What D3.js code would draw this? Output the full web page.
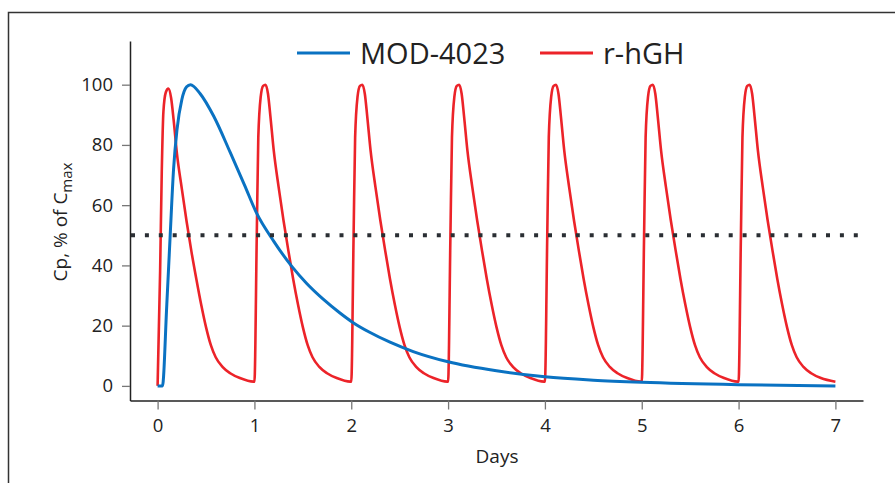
<!DOCTYPE html>
<html>
<head>
<meta charset="utf-8">
<script src="https://cdn.jsdelivr.net/npm/d3@7"></script>
<style>
	body { margin: 0; background: #fff; }
	text { font-family: "Open Sans", sans-serif; fill: #222; }
</style>
</head>
<body>
<div id="container"></div>
<script>
// MOD-4023, [day, % of Cmax]
var modData = [
	[0, 0], [0.05, 0], [0.095, 27], [0.13, 50], [0.165, 72], [0.2, 85], [0.25, 95],
	[0.3, 99.3], [0.34, 100], [0.44, 97], [0.58, 89.5], [0.75, 77.5], [0.9, 66.5],
	[1.02, 57.5], [1.2, 48], [1.39, 39.5], [1.54, 34], [1.71, 28.8], [1.88, 24.3],
	[2.02, 21], [2.19, 17.8], [2.4, 14.5], [2.64, 11.4], [3.0, 8], [3.5, 5],
	[4.0, 3], [4.5, 1.9], [5.0, 1.2], [6.0, 0.4], [7.0, 0]
]

// r-hGH, daily doses, [day, % of Cmax]
var rhghData = [
	[0, 0], [0.026, 38], [0.043, 71], [0.06, 91], [0.085, 97.5], [0.112, 98.7], [0.14, 95.5],
	[0.165, 88.5], [0.2, 77], [0.25, 65.5], [0.3, 54.5], [0.35, 44.5], [0.4, 35.5],
	[0.45, 27], [0.5, 19.5], [0.55, 13.5], [0.6, 9.5], [0.67, 6.3], [0.75, 4.2], [0.85, 2.6], [0.99, 1.4],
	[1.0, 1.4], [1.024, 49.5], [1.04, 82.5], [1.065, 96], [1.09, 99.6], [1.115, 100], [1.14, 97],
	[1.165, 89.5], [1.2, 78], [1.25, 66], [1.3, 55], [1.35, 45], [1.4, 35.5], [1.45, 27],
	[1.5, 19.5], [1.55, 13.5], [1.6, 9.5], [1.67, 6.3], [1.75, 4.2], [1.85, 2.6], [1.99, 1.4],
	[2.0, 1.4], [2.024, 49.5], [2.04, 82.5], [2.065, 96], [2.09, 99.6], [2.115, 100], [2.14, 97],
	[2.165, 89.5], [2.2, 78], [2.25, 66], [2.3, 55], [2.35, 45], [2.4, 35.5], [2.45, 27],
	[2.5, 19.5], [2.55, 13.5], [2.6, 9.5], [2.67, 6.3], [2.75, 4.2], [2.85, 2.6], [2.99, 1.4],
	[3.0, 1.4], [3.024, 49.5], [3.04, 82.5], [3.065, 96], [3.09, 99.6], [3.115, 100], [3.14, 97],
	[3.165, 89.5], [3.2, 78], [3.25, 66], [3.3, 55], [3.35, 45], [3.4, 35.5], [3.45, 27],
	[3.5, 19.5], [3.55, 13.5], [3.6, 9.5], [3.67, 6.3], [3.75, 4.2], [3.85, 2.6], [3.99, 1.4],
	[4.0, 1.4], [4.024, 49.5], [4.04, 82.5], [4.065, 96], [4.09, 99.6], [4.115, 100], [4.14, 97],
	[4.165, 89.5], [4.2, 78], [4.25, 66], [4.3, 55], [4.35, 45], [4.4, 35.5], [4.45, 27],
	[4.5, 19.5], [4.55, 13.5], [4.6, 9.5], [4.67, 6.3], [4.75, 4.2], [4.85, 2.6], [4.99, 1.4],
	[5.0, 1.4], [5.024, 49.5], [5.04, 82.5], [5.065, 96], [5.09, 99.6], [5.115, 100], [5.14, 97],
	[5.165, 89.5], [5.2, 78], [5.25, 66], [5.3, 55], [5.35, 45], [5.4, 35.5], [5.45, 27],
	[5.5, 19.5], [5.55, 13.5], [5.6, 9.5], [5.67, 6.3], [5.75, 4.2], [5.85, 2.6], [5.99, 1.4],
	[6.0, 1.4], [6.024, 49.5], [6.04, 82.5], [6.065, 96], [6.09, 99.6], [6.115, 100], [6.14, 97],
	[6.165, 89.5], [6.2, 78], [6.25, 66], [6.3, 55], [6.35, 45], [6.4, 35.5], [6.45, 27],
	[6.5, 19.5], [6.55, 13.5], [6.6, 9.5], [6.67, 6.3], [6.75, 4.2], [6.85, 2.6], [7.0, 1.4]
]

var xTicks = [0, 1, 2, 3, 4, 5, 6, 7]
var yTicks = [0, 20, 40, 60, 80, 100]
var halfLevel = 50

var seriesNames = ["MOD-4023", "r-hGH"]
var seriesColors = ["#0a72c2", "#ec2329"]

var w = 895
var h = 483
var boundaries = {
	bottom: 400.5,
	top: 41,
	left: 130,
	right: 863
}

var svg = d3.select("#container")
	.append("svg")
	.attr("width", w)
	.attr("height", h)

// frame
svg.append("path")
	.attr("d", "M8.5," + h + "V12.5H" + w)
	.attr("fill", "none")
	.attr("stroke", "#333")
	.attr("stroke-width", 1.5)

// x Scale
var xScale = d3.scaleLinear()
	.domain([-0.285, 7.285])
	.range([boundaries.left, boundaries.right])

// y Scale
var yScale = d3.scaleLinear()
	.domain([-4.85, 114.5])
	.range([boundaries.bottom, boundaries.top])

var xAxis = d3.axisBottom(xScale).tickValues(xTicks).tickSize(9).tickSizeOuter(0).tickPadding(9)
var yAxis = d3.axisLeft(yScale).tickValues(yTicks).tickSize(8).tickSizeOuter(0).tickPadding(9)

var gx = svg.append("g")
	.attr("transform", "translate(0, " + boundaries.bottom + ")")
	.call(xAxis)

var gy = svg.append("g")
	.attr("transform", "translate(" + boundaries.left + ", 0)")
	.call(yAxis)

;[gx, gy].forEach(g => {
	g.select(".domain").attr("stroke", "#222").attr("stroke-width", 1.5)
	g.selectAll(".tick line").attr("stroke", "#777").attr("stroke-width", 1.3)
	g.selectAll(".tick text")
		.style("font-family", "'Open Sans', sans-serif")
		.style("font-size", "18.5px")
		.attr("fill", "#222")
})

// lines
var line = d3.line()
	.x(d => xScale(d[0]))
	.y(d => yScale(d[1]))
	.curve(d3.curveMonotoneX)

svg.append("path")
	.datum(rhghData)
	.attr("d", line)
	.attr("fill", "none")
	.attr("stroke", seriesColors[1])
	.attr("stroke-width", 2.6)
	.attr("stroke-linejoin", "round")

svg.append("path")
	.datum(modData)
	.attr("d", line)
	.attr("fill", "none")
	.attr("stroke", seriesColors[0])
	.attr("stroke-width", 3)
	.attr("stroke-linejoin", "round")

// 50% dotted line
svg.append("line")
	.attr("x1", 131)
	.attr("x2", 858)
	.attr("y1", yScale(halfLevel))
	.attr("y2", yScale(halfLevel))
	.attr("stroke", "#2a2e33")
	.attr("stroke-width", 4)
	.attr("stroke-dasharray", "4 9.9")

// legend
var legendX = [297, 540]
seriesNames.forEach((name, i) => {
	svg.append("line")
		.attr("x1", legendX[i])
		.attr("x2", legendX[i] + 53)
		.attr("y1", 53)
		.attr("y2", 53)
		.attr("stroke", seriesColors[i])
		.attr("stroke-width", 3)
	svg.append("text")
		.attr("x", legendX[i] + 63)
		.attr("y", 63.5)
		.style("font-size", "29px")
		.text(name)
})

// Text label for the X axis
svg.append("text")
	.style("text-anchor", "middle")
	.style("font-size", "19px")
	.attr("x", 497)
	.attr("y", 463)
	.text("Days")

// Text label for the Y axis
var yLabel = svg.append("text")
	.attr("transform", "translate(67, 222) rotate(-90)")
	.style("text-anchor", "middle")
	.style("font-size", "19px")
yLabel.append("tspan").text("Cp, % of C")
yLabel.append("tspan").attr("dy", 5).style("font-size", "15px").text("max")
</script>
</body>
</html>
